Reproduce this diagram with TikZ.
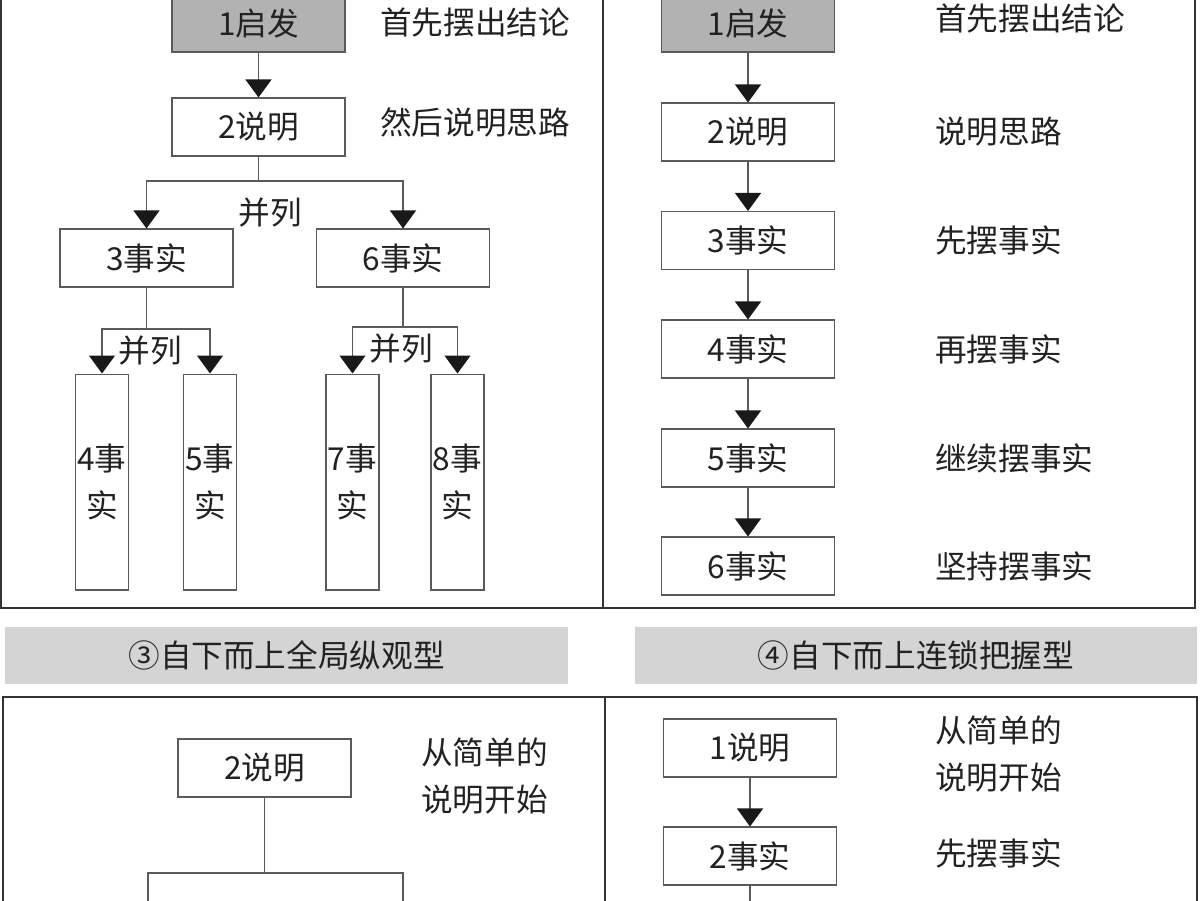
\documentclass[tikz,border=0pt]{standalone}
\usepackage{fontspec}
\setmainfont{Noto Sans CJK SC}
\usepackage{tikz}
\usetikzlibrary{arrows.meta,calc,positioning}
\definecolor{startgray}{HTML}{B2B2B2}
\definecolor{bannergray}{HTML}{D4D4D4}
\definecolor{linegray}{HTML}{5A5A5A}
\definecolor{inkgray}{HTML}{222222}
\tikzset{fontscale/.style = {font=\fontsize{18}{27}\selectfont, text=inkgray}}
\tikzstyle{cbox}=[rectangle, draw=linegray, line width=0.6pt, minimum width=3.46cm, minimum height=1.16cm, inner sep=0pt, fontscale]
\tikzstyle{cstart}=[cbox, fill=startgray]
\tikzstyle{ctall}=[cbox, minimum width=1.06cm, minimum height=4.32cm, align=center]
\tikzstyle{cbanner}=[rectangle, fill=bannergray, minimum height=1.14cm, inner sep=0pt, fontscale]
\tikzstyle{legend_note}=[rectangle, anchor=west, inner sep=0pt, align=left, fontscale]

\begin{document}
\begin{tikzpicture}[x=0.02cm, y=-0.02cm, link/.style={draw=linegray, line width=0.6pt}, arr/.style={link, -{Triangle[width=0.52cm, length=0.36cm, color=black!90]}}, panel/.style={draw=black!80, line width=1pt}]

\useasboundingbox (0,0) rectangle (1200,900);
\clip (0,0) rectangle (1200,900);

% frames and banners
\draw[panel] (1,-10) rectangle (603,608);
\draw[panel] (603,-10) rectangle (1195,608);
\draw[panel] (3,697) rectangle (605,910);
\draw[panel] (605,697) rectangle (1197,910);

\node[cbanner, minimum width=11.26cm] (ban3) at (286.5,655.5) {③自下而上全局纵观型};
\node[cbanner, minimum width=11.24cm] (ban4) at (916,655.5) {④自下而上连锁把握型};

% panel 1: tree
\node[cstart] (a1) at (258.5,23) {1启发};
\node[cbox] (a2) at (258.5,127) {2说明};
\node[cbox] (a3) at (146.5,258) {3事实};
\node[cbox] (a6) at (403,258) {6事实};
\node[ctall] (a4) at (102,482) {4事\\实};
\node[ctall] (a5) at (210,482) {5事\\实};
\node[ctall] (a7) at (352.5,482) {7事\\实};
\node[ctall] (a8) at (457.5,482) {8事\\实};

\coordinate (s2) at (258.5,181);
\coordinate (s3) at (146.5,329);
\coordinate (s6) at (403,327);

  \path[arr] (a1) edge (a2);
  \draw[link] (a2) -- (s2);
  \draw[arr] (s2) -| (a3);
  \draw[arr] (s2) -| (a6);
  \draw[link] (a3) -- (s3);
  \draw[arr] (s3) -| (a4);
  \draw[arr] (s3) -| (a5);
  \draw[link] (a6) -- (s6);
  \draw[arr] (s6) -| (a7);
  \draw[arr] (s6) -| (a8);

% panel 2: chain
\node[cstart] (b1) at (748,23) {1启发};
\node[cbox] (b2) at (748,132) {2说明};
\node[cbox] (b3) at (748,240.5) {3事实};
\node[cbox] (b4) at (748,349) {4事实};
\node[cbox] (b5) at (748,458) {5事实};
\node[cbox] (b6) at (748,566) {6事实};

  \path[arr] (b1) edge (b2);
  \path[arr] (b2) edge (b3);
  \path[arr] (b3) edge (b4);
  \path[arr] (b4) edge (b5);
  \path[arr] (b5) edge (b6);

% panel 3
\node[cbox] (c2) at (264.5,768) {2说明};
\node[cbox, minimum width=5.1cm] (c3) at (275.5,902) {};
  \draw[link] (c2.south) -- (c2.south |- c3.north);

% panel 4
\node[cbox] (d1) at (750,748) {1说明};
\node[cbox] (d2) at (750,856) {2事实};
\coordinate (d3) at (750,910);
  \path[arr] (d1) edge (d2);
  \draw[link] (d2) -- (d3);

% Legends
  \node[legend_note] (la1) at (380,22) {首先摆出结论};
  \node[legend_note] (la2) at (380,122) {然后说明思路};
  \node[fontscale] (par1) at (270,213) {并列};
  \node[fontscale] (par2) at (150,351) {并列};
  \node[fontscale] (par3) at (401,349) {并列};

  \node[legend_note] (lb1) at (935,18) {首先摆出结论};
  \node[legend_note] (lb2) at (935,132) {说明思路};
  \node[legend_note] (lb3) at (935,240) {先摆事实};
  \node[legend_note] (lb4) at (935,349) {再摆事实};
  \node[legend_note] (lb5) at (935,458) {继续摆事实};
  \node[legend_note] (lb6) at (935,566) {坚持摆事实};

  \node[legend_note] (lc1) at (421,776) {从简单的\\说明开始};
  \node[legend_note] (ld1) at (935,754) {从简单的\\说明开始};
  \node[legend_note] (ld2) at (935,853) {先摆事实};
\end{tikzpicture}
\end{document}
